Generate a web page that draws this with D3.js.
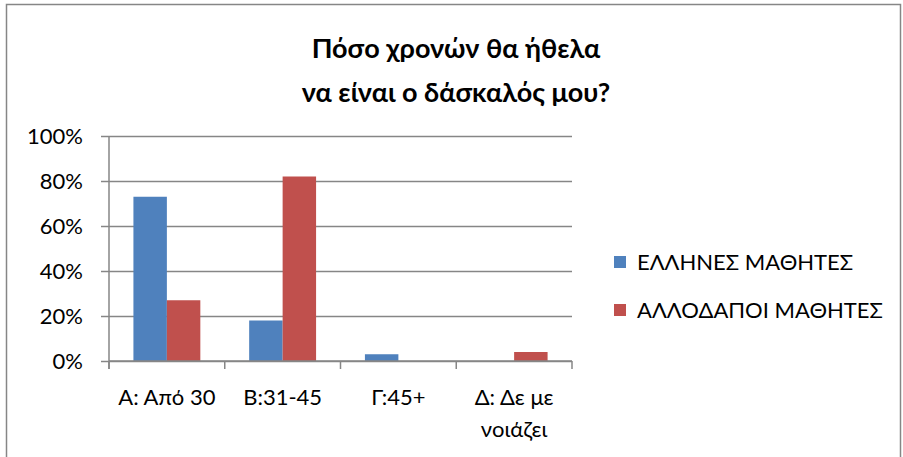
<!DOCTYPE html>
<html>
<head>
<meta charset="utf-8">
<script src="https://cdn.jsdelivr.net/npm/d3@7"></script>
<style>
  body { margin: 0; background: #fff; }
  text { font-family: Lato, "Open Sans", sans-serif; fill: #000; }
</style>
</head>
<body>
<svg id="chart" width="903" height="457"></svg>
<script>
const categories = [["Α: Από 30"], ["Β:31-45"], ["Γ:45+"], ["Δ: Δε με", "νοιάζει"]];
const seriesNames = ["ΕΛΛΗΝΕΣ ΜΑΘΗΤΕΣ", "ΑΛΛΟΔΑΠΟΙ ΜΑΘΗΤΕΣ"];
const greek = [0.73, 0.18, 0.03, 0];
const foreign = [0.27, 0.82, 0, 0.04];
const yTicks = [0, 0.2, 0.4, 0.6, 0.8, 1];
const colors = ["#4f81bd", "#c0504d"];

const svg = d3.select("#chart");
const plot = {left: 109, right: 572, top: 136, bottom: 361};

// chart frame
svg.append("rect")
    .attr("x", 6.5).attr("y", 4.5)
    .attr("width", 894).attr("height", 460)
    .attr("fill", "none").attr("stroke", "#868686").attr("stroke-width", 1.5);

// title
const title = svg.append("text")
    .attr("text-anchor", "middle")
    .style("font-weight", "bold").style("font-size", "27px");
title.append("tspan").attr("x", 456).attr("y", 58).text("Πόσο χρονών θα ήθελα");
title.append("tspan").attr("x", 456).attr("y", 102).text("να είναι ο δάσκαλός μου?");

const x = d3.scaleBand()
    .domain(d3.range(categories.length))
    .range([plot.left, plot.right]);
const inner = d3.scaleBand()
    .domain([0, 1])
    .range([0, x.bandwidth()])
    .paddingOuter(0.73);
const y = d3.scaleLinear().domain([0, 1]).range([plot.bottom, plot.top]);

// gridlines + y axis
const axisY = d3.axisLeft(y)
    .tickValues(yTicks)
    .tickSize(-(plot.right - plot.left))
    .tickFormat(d3.format(".0%"));
const axisYG = svg.append("g")
    .attr("transform", `translate(${plot.left},0)`)
    .call(axisY);
axisYG.select(".domain").remove();
axisYG.selectAll(".tick line").attr("stroke", "#868686").attr("stroke-width", 1.5)
    .attr("x1", -8);
axisYG.selectAll(".tick text")
    .attr("x", -26).attr("dy", "0.35em")
    .style("font-size", "22px").style("font-family", "Lato, sans-serif");

// bars
const series = [greek, foreign];
series.forEach((vals, s) => {
    svg.append("g").selectAll("rect")
        .data(vals)
        .join("rect")
        .attr("x", (d, i) => x(i) + inner(s))
        .attr("width", inner.bandwidth())
        .attr("y", d => y(d))
        .attr("height", d => y(0) - y(d))
        .attr("fill", colors[s]);
});

// x axis
svg.append("line")
    .attr("x1", plot.left).attr("x2", plot.right)
    .attr("y1", plot.bottom).attr("y2", plot.bottom)
    .attr("stroke", "#868686").attr("stroke-width", 1.5);
svg.append("line")
    .attr("x1", plot.left).attr("x2", plot.left)
    .attr("y1", plot.top).attr("y2", plot.bottom + 8)
    .attr("stroke", "#868686").attr("stroke-width", 1.5);
const tickXs = d3.range(categories.length + 1).map(i => plot.left + i * x.step());
svg.append("g").selectAll("line")
    .data(tickXs)
    .join("line")
    .attr("x1", d => d).attr("x2", d => d)
    .attr("y1", plot.bottom).attr("y2", plot.bottom + 8)
    .attr("stroke", "#868686").attr("stroke-width", 1.5);

const catLabels = svg.append("g").selectAll("text")
    .data(categories)
    .join("text")
    .attr("text-anchor", "middle")
    .style("font-size", "22px");
catLabels.each(function(lines, i) {
    d3.select(this).selectAll("tspan")
        .data(lines)
        .join("tspan")
        .attr("x", x(i) + x.bandwidth() / 2)
        .attr("y", (d, j) => 405 + j * 32)
        .text(d => d);
});

// legend
const legend = svg.append("g").selectAll("g")
    .data(seriesNames)
    .join("g")
    .attr("transform", (d, i) => `translate(614, ${262 + i * 48})`);
legend.append("rect")
    .attr("x", 0).attr("y", -6)
    .attr("width", 12).attr("height", 12)
    .attr("fill", (d, i) => colors[i]);
legend.append("text")
    .attr("x", 23).attr("dy", "0.35em")
    .style("font-size", "22px")
    .text(d => d);
</script>
</body>
</html>
